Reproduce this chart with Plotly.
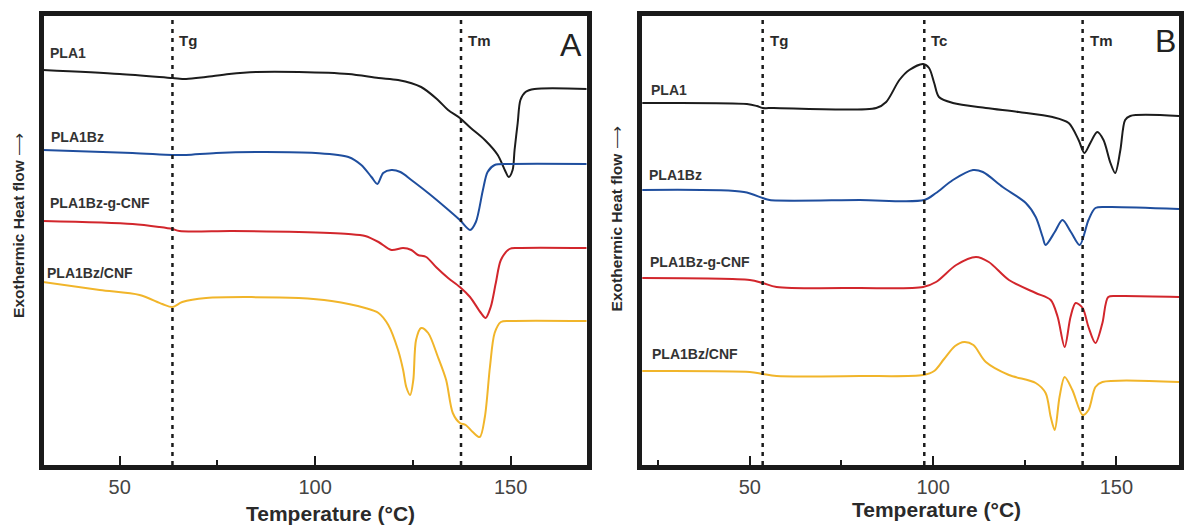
import plotly.graph_objects as go

# ---------------- Panel A: heating scan (temperature in °C, heat flow in a.u.) ----------------
a_pla1_t = [30.2, 50, 63.5, 67.0, 72.0, 78.0, 85.0, 95.8, 108.5, 116.2, 121.2, 127.1, 131.4, 134.0,
            137.0, 139.8, 143.4, 146.7, 148.5, 149.5, 150.5, 151.0, 151.8, 152.5, 153.8, 156.1, 170]
a_pla1_hf = [39.5, 39.1, 38.7, 38.6, 38.8, 39.1, 39.3, 39.3, 39.1, 38.7, 38.5, 37.8, 36.5, 35.5,
             34.7, 33.7, 32.5, 31.0, 29.5, 28.8, 29.5, 31.5, 34.2, 36.5, 37.3, 37.6, 37.6]

a_bz_t = [30.2, 53.3, 63.5, 67.0, 74.7, 87.4, 100.1, 108.5, 111.8, 114.4, 115.9, 117.4, 119.5, 121.8,
          124.6, 128.9, 133.2, 137.0, 139.6, 141.1, 142.9, 144.1, 145.9, 150.0, 170]
a_bz_hf = [31.5, 31.2, 31.0, 31.0, 31.2, 31.3, 31.2, 30.8, 30.0, 28.8, 28.1, 29.2, 29.5, 29.3,
           28.5, 27.2, 25.8, 24.5, 23.5, 24.3, 27.5, 29.3, 30.0, 30.1, 30.1]

a_gcnf_t = [30.4, 53.3, 60.2, 63.5, 65.3, 78.8, 95.8, 108.5, 112.8, 116.2, 119.5, 122.5, 124.6, 126.3,
            128.4, 130.9, 134.0, 137.0, 139.6, 142.4, 143.6, 144.9, 146.2, 147.5, 149.7, 151.8, 170]
a_gcnf_hf = [24.4, 24.1, 23.8, 23.6, 23.4, 23.4, 23.3, 23.1, 22.9, 22.3, 21.5, 21.7, 21.5, 21.0,
             20.8, 19.8, 18.7, 17.8, 16.8, 15.2, 14.7, 15.8, 18.2, 20.5, 21.6, 21.7, 21.7]

a_cnf_t = [30.2, 44.9, 55.1, 60.9, 63.5, 66.0, 72.1, 95.8, 104.2, 112.8, 116.2, 118.7, 121.2, 122.5,
           123.3, 124.3, 125.1, 125.8, 127.1, 128.9, 131.4, 133.5, 135.2, 137.0, 138.5, 140.3, 142.1,
           143.4, 144.7, 145.9, 147.5, 150.0, 170]
a_cnf_hf = [18.3, 17.5, 17.0, 16.1, 15.8, 16.3, 16.7, 16.7, 16.4, 15.7, 15.2, 14.0, 11.5, 9.5,
            7.8, 7.0, 8.5, 12.5, 13.7, 13.2, 10.8, 8.5, 5.2, 4.2, 4.0, 3.3, 2.8,
            4.8, 9.8, 13.2, 14.3, 14.4, 14.4]

# ---------------- Panel B: second heating scan ----------------
b_pla1_t = [20.5, 49.2, 51.9, 53.5, 56.5, 84.5, 87.2, 90.8, 93.5, 97.3, 98.9, 100.3, 101.6, 105.4,
            114.4, 123.4, 132.6, 137.0, 139.7, 141.3, 142.9, 144.8, 146.5, 148.4, 149.7, 151.1,
            152.4, 153.8, 167.1]
b_pla1_hf = [36.2, 36.1, 35.9, 35.7, 35.7, 35.7, 36.3, 38.5, 39.5, 40.1, 39.7, 38.2, 36.8, 36.2,
             35.7, 35.3, 34.8, 34.2, 32.5, 31.2, 32.2, 33.3, 32.5, 30.2, 29.2, 31.5,
             34.5, 34.9, 34.9]

b_bz_t = [20.5, 48.4, 53.5, 55.4, 80.0, 97.6, 100.8, 105.4, 110.9, 113.6, 119.0, 125.3, 128.0, 129.9,
          130.7, 133.2, 135.3, 137.6, 140.0, 142.4, 144.3, 147.8, 167.1]
b_bz_hf = [27.5, 27.3, 26.7, 26.5, 26.5, 26.5, 27.2, 28.5, 29.5, 29.3, 27.8, 26.2, 24.8, 22.8,
           22.0, 23.3, 24.5, 23.3, 22.0, 24.5, 25.7, 25.8, 25.6]

b_gcnf_t = [20.5, 50.0, 53.5, 57.3, 80.0, 97.3, 100.8, 106.3, 111.7, 115.2, 120.7, 128.0, 132.1,
            134.0, 135.9, 137.5, 138.9, 140.8, 142.4, 144.3, 146.2, 147.8, 150.5, 167.1]
b_gcnf_hf = [18.7, 18.5, 18.2, 17.8, 17.7, 17.8, 18.3, 20.0, 20.8, 20.3, 18.5, 17.2, 16.5,
             14.8, 11.8, 14.8, 16.2, 15.7, 13.8, 12.2, 14.2, 16.8, 16.9, 16.8]

b_cnf_t = [20.5, 50.0, 53.5, 57.3, 80.0, 97.3, 100.3, 103.0, 106.0, 108.5, 111.0, 114.4, 120.7, 128.0,
           130.7, 132.1, 133.2, 134.5, 135.9, 138.0, 140.8, 142.4, 144.3, 146.2, 167.1]
b_cnf_hf = [9.4, 9.3, 9.1, 8.9, 8.9, 9.0, 9.4, 10.6, 11.9, 12.3, 12.0, 10.3, 9.0, 8.2,
            7.2, 4.8, 3.5, 6.8, 8.8, 7.5, 5.0, 5.5, 7.8, 8.3, 8.3]

sample_names = ["PLA1", "PLA1Bz", "PLA1Bz-g-CNF", "PLA1Bz/CNF"]
sample_colors = ["#1c1c1c", "#1f4e9e", "#d2262c", "#f1b52a"]

# transition markers
a_marks = {"Tg": 63.5, "Tm": 137.3}
b_marks = {"Tg": 53.5, "Tc": 97.6, "Tm": 140.8}

# label anchor positions (temperature, heat flow)
a_label_t = [31.7, 31.9, 31.7, 30.9]
a_label_hf = [41.2, 32.8, 26.2, 19.2]
b_label_t = [22.6, 22.0, 22.3, 22.8]
b_label_hf = [37.5, 29.0, 20.3, 11.1]

major_ticks = [50, 100, 150]
a_minor = [75, 125]
b_minor = [25, 75, 125]

FONT = "Liberation Sans, Arial, sans-serif"
FRAME = "#1a1a1a"

fig = go.Figure()

panel_a = [(a_pla1_t, a_pla1_hf), (a_bz_t, a_bz_hf), (a_gcnf_t, a_gcnf_hf), (a_cnf_t, a_cnf_hf)]
panel_b = [(b_pla1_t, b_pla1_hf), (b_bz_t, b_bz_hf), (b_gcnf_t, b_gcnf_hf), (b_cnf_t, b_cnf_hf)]

for (t, hf), name, col in zip(panel_a, sample_names, sample_colors):
    fig.add_trace(go.Scatter(x=t, y=hf, mode="lines", name=name, xaxis="x", yaxis="y",
                             line=dict(color=col, width=2, shape="spline", smoothing=0.85),
                             showlegend=False, hoverinfo="skip"))
for (t, hf), name, col in zip(panel_b, sample_names, sample_colors):
    fig.add_trace(go.Scatter(x=t, y=hf, mode="lines", name=name, xaxis="x2", yaxis="y2",
                             line=dict(color=col, width=2, shape="spline", smoothing=0.85),
                             showlegend=False, hoverinfo="skip"))

y_dom = [60 / 525, 509 / 525]
y_rng = [0, 44.9]

axis_common = dict(showline=True, linewidth=4.5, linecolor=FRAME, mirror=True,
                   showgrid=False, zeroline=False)

fig.update_layout(
    width=1184, height=525,
    margin=dict(l=0, r=0, t=0, b=0),
    paper_bgcolor="white", plot_bgcolor="white",
    xaxis=dict(domain=[44 / 1184, 589 / 1184], range=[30.6, 169.4],
               tickvals=major_ticks, ticks="inside", ticklen=9, tickwidth=2, tickcolor=FRAME,
               minor=dict(tickvals=a_minor, ticks="inside", ticklen=5, tickwidth=2, tickcolor=FRAME),
               tickfont=dict(family=FONT, size=20, color="#444444"), anchor="y", **axis_common),
    yaxis=dict(domain=y_dom, range=y_rng, showticklabels=False, ticks="", anchor="x", **axis_common),
    xaxis2=dict(domain=[645 / 1184, 1.0], range=[20.65, 167.1],
                tickvals=major_ticks, ticks="inside", ticklen=9, tickwidth=2, tickcolor=FRAME,
                minor=dict(tickvals=b_minor, ticks="inside", ticklen=5, tickwidth=2, tickcolor=FRAME),
                tickfont=dict(family=FONT, size=20, color="#444444"), anchor="y2", **axis_common),
    yaxis2=dict(domain=y_dom, range=y_rng, showticklabels=False, ticks="", anchor="x2", **axis_common),
)

# dotted transition lines and their labels
for xr, marks in (("x", a_marks), ("x2", b_marks)):
    yr = "y" if xr == "x" else "y2"
    for lab, temp in marks.items():
        fig.add_shape(type="line", xref=xr, yref=f"{yr} domain", x0=temp, x1=temp, y0=0, y1=1,
                      line=dict(color="#1a1a1a", width=2.5, dash="4px,5px"), layer="above")
        fig.add_annotation(xref=xr, yref=yr, x=temp, y=42.4, text=f"<b>{lab}</b>", showarrow=False,
                           xanchor="left", yanchor="middle", xshift=5,
                           font=dict(family=FONT, size=15, color="#2a2a2a"))

# sample labels
for xr, yr, ts, hs in (("x", "y", a_label_t, a_label_hf), ("x2", "y2", b_label_t, b_label_hf)):
    for name, t, h in zip(sample_names, ts, hs):
        fig.add_annotation(xref=xr, yref=yr, x=t, y=h, text=f"<b>{name}</b>", showarrow=False,
                           xanchor="left", yanchor="middle",
                           font=dict(family=FONT, size=14, color="#333333"))

# panel letters
fig.add_annotation(xref="x", yref="y", x=165.5, y=42.0, text="A", showarrow=False,
                   font=dict(family=FONT, size=32, color="#222222"))
fig.add_annotation(xref="x2", yref="y2", x=163.3, y=42.4, text="B", showarrow=False,
                   font=dict(family=FONT, size=32, color="#222222"))

# axis titles
for px_x, px_y in ((332, 513), (940, 509)):
    fig.add_annotation(xref="paper", yref="paper", x=px_x / 1184, y=(525 - px_y) / 525,
                       text="<b>Temperature (°C)</b>", showarrow=False,
                       xanchor="center", yanchor="middle",
                       font=dict(family=FONT, size=21, color="#2a2a2a"))
for px_x, px_y in ((18, 225), (619, 219)):
    fig.add_annotation(xref="paper", yref="paper", x=px_x / 1184, y=(525 - px_y) / 525,
                       text="<b>Exothermic Heat flow</b> ⟶", showarrow=False, textangle=-90,
                       xanchor="center", yanchor="middle",
                       font=dict(family=FONT, size=15.5, color="#2a2a2a"))

fig.write_html("out.html")
